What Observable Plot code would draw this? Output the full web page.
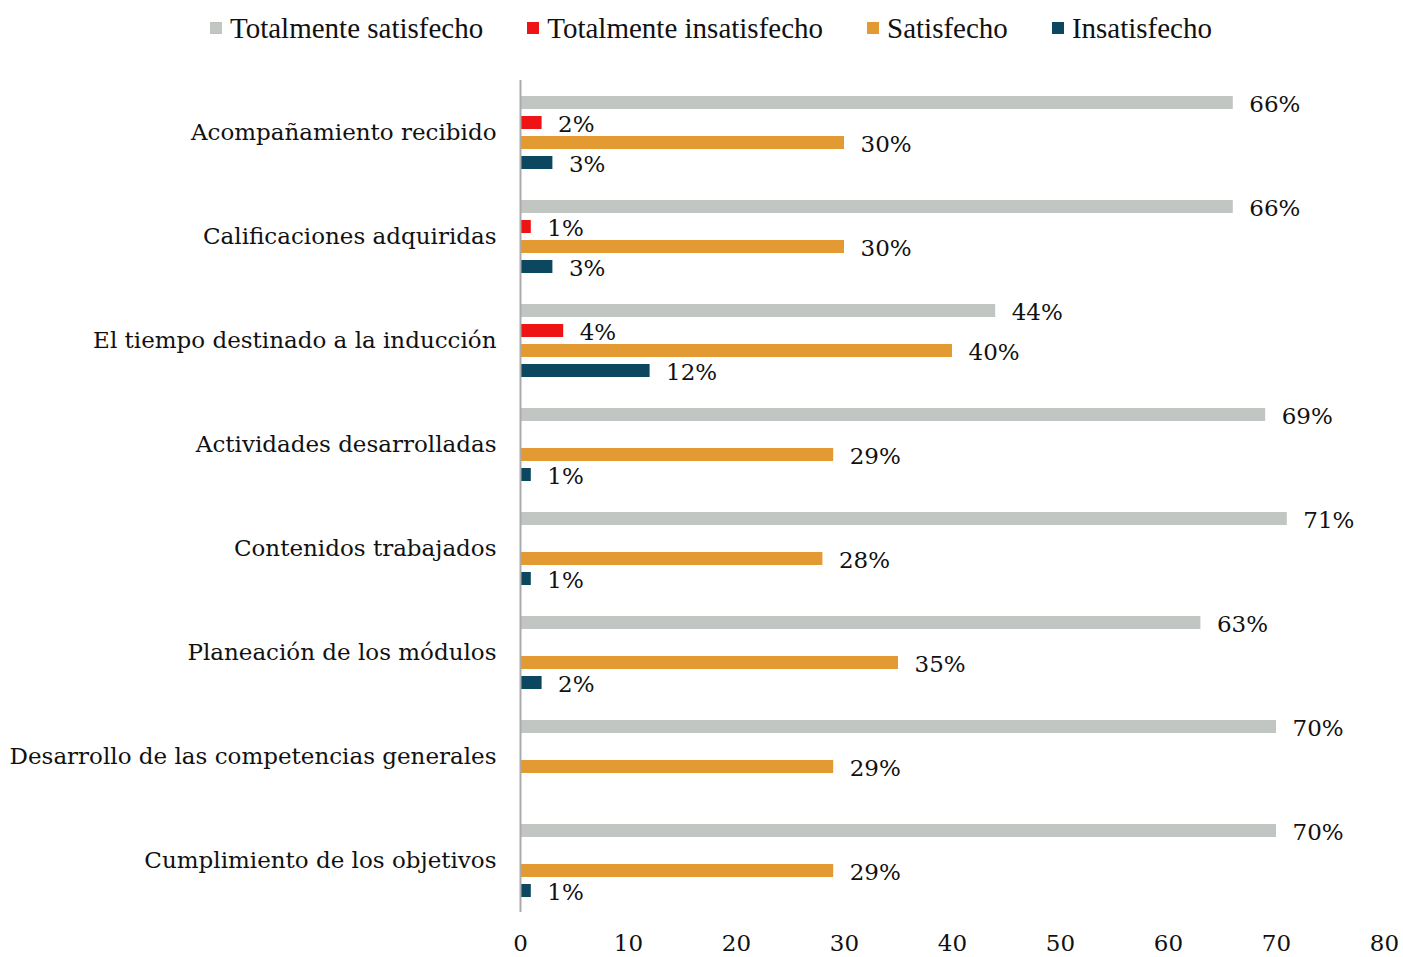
<!DOCTYPE html>
<html>
<head>
<meta charset="utf-8">
<script src="https://cdn.jsdelivr.net/npm/d3@7"></script>
<script src="https://cdn.jsdelivr.net/npm/@observablehq/plot@0.6"></script>
<style>
  body { margin: 0; background: white; }
  #legend { height: 56px; display: flex; align-items: center; padding-left: 210px; font-family: "Liberation Serif", serif; font-size: 29px; color: #111; }
  .item { display: flex; align-items: center; margin-right: 44px; }
  .sw { width: 12px; height: 12px; margin-right: 8px; }
</style>
</head>
<body>
<div id="legend"></div>
<div id="chart"></div>
<script>
const categories = [
  "Acompañamiento recibido",
  "Calificaciones adquiridas",
  "El tiempo destinado a la inducción",
  "Actividades desarrolladas",
  "Contenidos trabajados",
  "Planeación de los módulos",
  "Desarrollo de las competencias generales",
  "Cumplimiento de los objetivos"
];
const series = ["Totalmente satisfecho", "Totalmente insatisfecho", "Satisfecho", "Insatisfecho"];
const colors = ["#c1c6c3", "#ee1416", "#e39a33", "#0b475e"];
const totSat = [66, 66, 44, 69, 71, 63, 70, 70];
const totIns = [2, 1, 4, null, null, null, null, null];
const sat = [30, 30, 40, 29, 28, 35, 29, 29];
const ins = [3, 3, 12, 1, 1, 2, null, 1];
const xTicks = [0, 10, 20, 30, 40, 50, 60, 70, 80];

const seriesValues = [totSat, totIns, sat, ins];
const data = categories.flatMap((c, i) =>
  seriesValues.map((arr, k) => ({category: c, series: series[k], value: arr[i]}))
    .filter(d => d.value != null)
);

const legend = document.getElementById("legend");
series.forEach((s, k) => {
  const it = document.createElement("div");
  it.className = "item";
  const sw = document.createElement("div");
  sw.className = "sw";
  sw.style.background = colors[k];
  const t = document.createElement("span");
  t.textContent = s;
  it.appendChild(sw); it.appendChild(t);
  legend.appendChild(it);
});

const chart = Plot.plot({
  width: 1403,
  height: 901,
  marginLeft: 520,
  marginRight: 19,
  marginTop: 24,
  marginBottom: 45,
  style: {fontFamily: "DejaVu Serif", fontSize: "23px", color: "#111", background: "white"},
  x: {domain: [0, 80], ticks: xTicks, tickSize: 0, tickPadding: 22, label: null},
  fy: {domain: categories, padding: 0, label: null, tickSize: 0, tickPadding: 24},
  y: {domain: series, axis: null, paddingInner: 0.35, paddingOuter: 0.775},
  color: {domain: series, range: colors},
  marks: [
    Plot.barX(data, {fy: "category", y: "series", x: "value", fill: "series"}),
    Plot.text(data, {fy: "category", y: "series", x: "value", text: d => d.value + "%", textAnchor: "start", dx: 16, dy: 2, fill: "#111"}),
    Plot.ruleX([0], {stroke: "#aaaaaa", strokeWidth: 2})
  ]
});
document.getElementById("chart").appendChild(chart);
</script>
</body>
</html>
